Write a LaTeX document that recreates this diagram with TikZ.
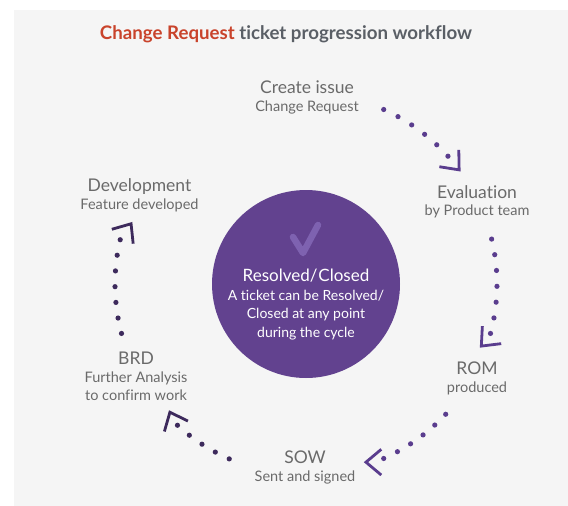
\documentclass[tikz,border=0pt]{standalone}
\usepackage{fontspec}
\setmainfont{Lato}[Ligatures=NoCommon]
\definecolor{panelgray}{HTML}{F5F5F5}
\definecolor{crred}{HTML}{C9432B}
\definecolor{titlegray}{HTML}{5A5F66}
\definecolor{stagegray}{HTML}{6A6A6A}
\definecolor{hubpurple}{HTML}{62428F}
\definecolor{checkpurple}{HTML}{7E62B0}
\definecolor{ringA}{HTML}{5A3D8E}
\definecolor{ringB}{HTML}{3D2A5C}

\begin{document}
\begin{tikzpicture}[x=1pt,y=-1pt]
\tikzstyle{every node}=[inner sep=0pt,outer sep=0pt];
\tikzstyle{stage}=[text=stagegray,anchor=base,font=\fontsize{17.5}{20}\selectfont];
\tikzstyle{note}=[text=stagegray,anchor=base,font=\fontsize{14.5}{18}\selectfont];
\tikzstyle{chev}=[line width=2.8pt,line cap=butt,line join=miter];

\fill[panelgray] (14,10) rectangle (568,506);
\useasboundingbox (0,0) rectangle (568,506);

\node[anchor=base,text=titlegray,font=\fontsize{18.7}{20}\selectfont\bfseries] (title) at (286,39)
  {\textcolor{crred}{Change Request} ticket progression workflow};

% centre
\node[circle,fill=hubpurple,minimum size=188pt] (hub) at (306,284) {};
\draw[checkpurple,line width=6.5pt,line cap=round,line join=round]
  (293,237) -- (303,253) -- (318,225);
\node[anchor=base,text=white,font=\fontsize{17}{20}\selectfont] (closed) at (306,281.5) {Resolved/\kern1pt Closed};
% multi-line nodes sit on their last baseline
\node[anchor=base,text=white,font=\fontsize{14}{18.5}\selectfont,align=center] (closednote) at (306,337)
  {A ticket can be Resolved/\\Closed at any point\\during the cycle};

% stages
\node[stage] (create) at (307,93) {Create issue};
\node[note] (createnote) at (307,111) {Change Request};
\node[stage] (eval) at (477,198) {Evaluation};
\node[note] (evalnote) at (477,215.5) {by Product team};
\node[stage] (rom) at (477,374) {ROM};
\node[note] (romnote) at (477,392) {produced};
\node[stage] (sow) at (305,463) {SOW};
\node[note] (sownote) at (305,481.5) {Sent and signed};
\node[stage] (brd) at (136,364) {BRD};
\node[note,align=center] (brdnote) at (136,400.5) {Further Analysis\\to confirm work};
\node[stage] (dev) at (139.5,191) {Development};
\node[note] (devnote) at (139.5,209) {Feature developed};

% dotted ring with chevrons
\foreach \a/\b/\n/\t/\r/\p/\c/\name in {66/42/5/36.7/191/-49/ringA/to-eval,
    13.6/-15/6/-19.5/186/-133/ringA/to-rom,
    -43/-66/5/-71.4/188/180/ringA/to-sow,
    -113.7/-132.3/4/-136.7/187/114/ringB/to-brd,
    195/166.6/6/161/185/56/ringB/to-dev}{
  \foreach \i in {0,...,\n}
    \fill[\c] ([shift={({\a+(\b-\a)*\i/\n}:191pt)}]hub.center) circle (2.6pt);
  \coordinate (\name) at ([shift={(\t:\r pt)}]hub.center);
  \draw[chev,\c] ([shift={(\p+140:20pt)}]\name) -- (\name) -- ([shift={(\p-140:20pt)}]\name);
}
\end{tikzpicture}
\end{document}
